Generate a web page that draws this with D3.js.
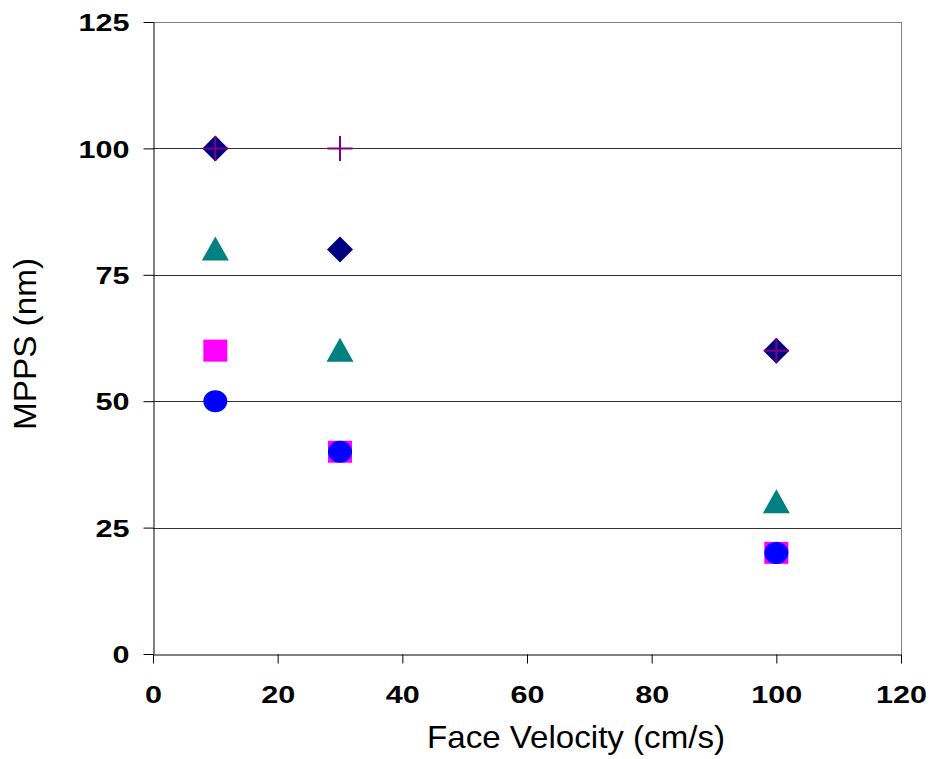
<!DOCTYPE html>
<html>
<head>
<meta charset="utf-8">
<script src="https://cdn.jsdelivr.net/npm/d3@7"></script>
<style>
  body { margin: 0; background: #fff; }
</style>
</head>
<body>
<div id="chart"></div>
<script>
// Data
const xTicks = [0, 20, 40, 60, 80, 100, 120];
const yTicks = [0, 25, 50, 75, 100, 125];
const velocity = [10, 30, 100];

const diamondSeries = [100, 80, 60];
const squareSeries = [60, 40, 20];
const triangleSeries = [80, 60, 30];
const circleSeries = [50, 40, 20];
const plusSeries = [100, 100, 60];

const width = 933;
const height = 759;
const margin = { top: 22, right: 32, bottom: 105, left: 153 };

const x = d3.scaleLinear().domain([0, 120]).range([margin.left, width - margin.right]);
const y = d3.scaleLinear().domain([0, 125]).range([height - margin.bottom, margin.top]);

const svg = d3.select("#chart").append("svg")
    .attr("width", width)
    .attr("height", height);

// Gridlines
svg.append("g")
    .selectAll("line")
    .data(yTicks.filter(d => d > 0))
    .join("line")
    .attr("x1", x(0))
    .attr("x2", x(120))
    .attr("y1", d => Math.round(y(d)) + 0.5)
    .attr("y2", d => Math.round(y(d)) + 0.5)
    .attr("stroke", d => d === 125 ? "#808080" : "#333")
    .attr("stroke-width", 1);

// Right border of plot area
svg.append("line")
    .attr("x1", Math.round(x(120)) + 0.5)
    .attr("x2", Math.round(x(120)) + 0.5)
    .attr("y1", y(125))
    .attr("y2", y(0))
    .attr("stroke", "#808080");

// Axes
const xAxis = svg.append("g")
    .attr("transform", `translate(0,${Math.round(y(0)) + 0.5})`)
    .call(d3.axisBottom(x).tickValues(xTicks).tickSize(9).tickPadding(22).tickSizeOuter(0));

const yAxis = svg.append("g")
    .attr("transform", `translate(${Math.round(x(0)) + 0.5},0)`)
    .call(d3.axisLeft(y).tickValues(yTicks).tickSize(10).tickPadding(14).tickSizeOuter(0));

[xAxis, yAxis].forEach(g => {
    g.select(".domain").attr("stroke", "#000");
    g.selectAll(".tick line").attr("stroke", "#000");
    g.selectAll(".tick text")
        .attr("font-family", "Liberation Sans, Arial, sans-serif")
        .attr("font-weight", "bold")
        .attr("font-size", "24px")
        .attr("fill", "#000")
        .attr("textLength", d => String(d).length * 17)
        .attr("lengthAdjust", "spacingAndGlyphs");
});
yAxis.selectAll(".tick text").attr("dy", "0.36em");

// Axis titles
svg.append("text")
    .attr("x", 576)
    .attr("y", 748)
    .attr("text-anchor", "middle")
    .attr("font-family", "Liberation Sans, Arial, sans-serif")
    .attr("font-size", "32px")
    .attr("textLength", 298)
    .attr("lengthAdjust", "spacingAndGlyphs")
    .text("Face Velocity (cm/s)");

svg.append("text")
    .attr("transform", "translate(36,344) rotate(-90)")
    .attr("text-anchor", "middle")
    .attr("font-family", "Liberation Sans, Arial, sans-serif")
    .attr("font-size", "31px")
    .attr("textLength", 172)
    .attr("lengthAdjust", "spacingAndGlyphs")
    .text("MPPS (nm)");

// Markers
const pts = vals => vals.map((v, i) => ({ x: velocity[i], y: v }));

svg.append("g").selectAll("path")
    .data(pts(diamondSeries))
    .join("path")
    .attr("d", d => {
        const cx = x(d.x), cy = y(d.y), r = 13;
        return `M${cx},${cy - r}L${cx + r},${cy}L${cx},${cy + r}L${cx - r},${cy}Z`;
    })
    .attr("fill", "#000080");

svg.append("g").selectAll("rect")
    .data(pts(squareSeries))
    .join("rect")
    .attr("x", d => x(d.x) - 12)
    .attr("y", d => y(d.y) - 11)
    .attr("width", 24)
    .attr("height", 22)
    .attr("fill", "#ff00ff");

svg.append("g").selectAll("path")
    .data(pts(triangleSeries))
    .join("path")
    .attr("d", d => {
        const cx = x(d.x), cy = y(d.y);
        return `M${cx},${cy - 13}L${cx + 13.5},${cy + 11}L${cx - 13.5},${cy + 11}Z`;
    })
    .attr("fill", "#008080");

svg.append("g").selectAll("ellipse")
    .data(pts(circleSeries))
    .join("ellipse")
    .attr("cx", d => x(d.x))
    .attr("cy", d => y(d.y))
    .attr("rx", 12)
    .attr("ry", 11)
    .attr("fill", "#0000ff");

svg.append("g").selectAll("path")
    .data(pts(plusSeries))
    .join("path")
    .attr("d", d => {
        const cx = x(d.x), cy = y(d.y), r = 12.5;
        return `M${cx - r},${cy}H${cx + r}M${cx},${cy - r}V${cy + r}`;
    })
    .attr("stroke", "#800080")
    .attr("stroke-width", 2)
    .attr("fill", "none");
</script>
</body>
</html>
